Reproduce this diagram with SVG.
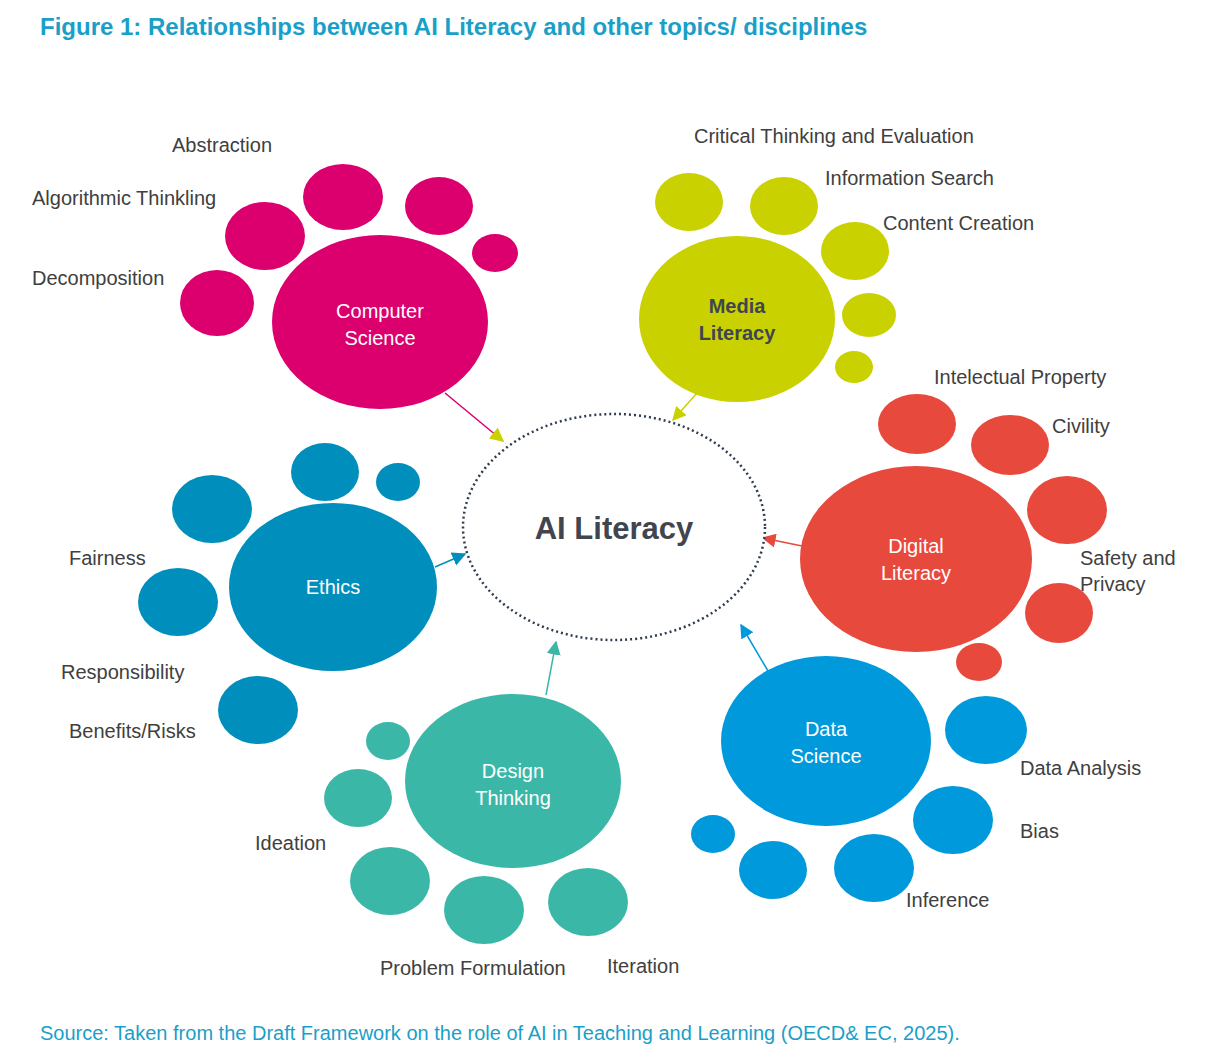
<svg xmlns="http://www.w3.org/2000/svg" width="1231" height="1064" viewBox="0 0 1231 1064">
<style>
text{font-family:"Liberation Sans",Arial,sans-serif}
.lb{font-size:20px;fill:#404040}
.w{font-size:20px;fill:#fff;text-anchor:middle}
.cs{fill:#DB006E}.ml{fill:#C9D100}.dl{fill:#E8493D}.ds{fill:#0099DB}.dt{fill:#3BB7A8}.et{fill:#008FBC}
.ar{stroke-width:1.5;fill:none}
</style>
<defs>
<marker id="m1" viewBox="0 0 10 10" refX="9" refY="5" markerWidth="8" markerHeight="8" orient="auto" markerUnits="userSpaceOnUse"><path d="M0,0L10,5L0,10z" fill="#DB006E"/></marker>
<marker id="m2" viewBox="0 0 10 10" refX="9" refY="5" markerWidth="14" markerHeight="14" orient="auto" markerUnits="userSpaceOnUse"><path d="M0,0L10,5L0,10z" fill="#C9D100"/></marker>
<marker id="m3" viewBox="0 0 10 10" refX="9" refY="5" markerWidth="14" markerHeight="14" orient="auto" markerUnits="userSpaceOnUse"><path d="M0,0L10,5L0,10z" fill="#E8493D"/></marker>
<marker id="m4" viewBox="0 0 10 10" refX="9" refY="5" markerWidth="14" markerHeight="14" orient="auto" markerUnits="userSpaceOnUse"><path d="M0,0L10,5L0,10z" fill="#0099DB"/></marker>
<marker id="m5" viewBox="0 0 10 10" refX="9" refY="5" markerWidth="14" markerHeight="14" orient="auto" markerUnits="userSpaceOnUse"><path d="M0,0L10,5L0,10z" fill="#3BB7A8"/></marker>
<marker id="m6" viewBox="0 0 10 10" refX="9" refY="5" markerWidth="14" markerHeight="14" orient="auto" markerUnits="userSpaceOnUse"><path d="M0,0L10,5L0,10z" fill="#008FBC"/></marker>
</defs>
<rect width="1231" height="1064" fill="#fff"/>
<text x="40" y="35" font-size="24" font-weight="bold" fill="#1A9FC9">Figure 1: Relationships between AI Literacy and other topics/ disciplines</text>

<g id="connectors">
<line class="ar" x1="445" y1="393" x2="503" y2="441" stroke="#DB006E" marker-end="url(#m2)"/>
<line class="ar" x1="697" y1="393" x2="673" y2="420" stroke="#C9D100" marker-end="url(#m2)"/>
<line class="ar" x1="802" y1="546" x2="763" y2="538" stroke="#E8493D" marker-end="url(#m3)"/>
<line class="ar" x1="768" y1="671" x2="741" y2="625" stroke="#0099DB" marker-end="url(#m4)"/>
<line class="ar" x1="546" y1="695" x2="556" y2="642" stroke="#3BB7A8" marker-end="url(#m5)"/>
<line class="ar" x1="435" y1="567" x2="465" y2="554" stroke="#008FBC" marker-end="url(#m6)"/>
</g>

<g id="ai-literacy">
<ellipse cx="614" cy="527" rx="151" ry="113" fill="#fff" stroke="#2E3D4F" stroke-width="2.5" stroke-dasharray="2 3"/>
<text x="614" y="539" font-size="31" font-weight="bold" fill="#3F4650" text-anchor="middle">AI Literacy</text>
</g>

<g id="computer-science" class="cs">
<ellipse cx="343" cy="197" rx="40" ry="33"/><ellipse cx="439" cy="206" rx="34" ry="29"/><ellipse cx="265" cy="236" rx="40" ry="34"/><ellipse cx="495" cy="253" rx="23" ry="19"/><ellipse cx="217" cy="303" rx="37" ry="33"/>
<ellipse cx="380" cy="322" rx="108" ry="87"/>
<text class="w" x="380" y="318">Computer</text><text class="w" x="380" y="345">Science</text>
</g>
<g id="media-literacy" class="ml">
<ellipse cx="689" cy="202" rx="34" ry="29"/><ellipse cx="784" cy="206" rx="34" ry="29"/><ellipse cx="855" cy="251" rx="34" ry="29"/><ellipse cx="869" cy="315" rx="27" ry="22"/><ellipse cx="854" cy="367" rx="19" ry="16"/>
<ellipse cx="737" cy="319" rx="98" ry="83"/>
<text x="737" y="313" font-size="20" font-weight="bold" fill="#3F4650" text-anchor="middle">Media</text><text x="737" y="340" font-size="20" font-weight="bold" fill="#3F4650" text-anchor="middle">Literacy</text>
</g>
<g id="digital-literacy" class="dl">
<ellipse cx="917" cy="424" rx="39" ry="30"/><ellipse cx="1010" cy="445" rx="39" ry="30"/><ellipse cx="1067" cy="510" rx="40" ry="34"/><ellipse cx="1059" cy="613" rx="34" ry="30"/><ellipse cx="979" cy="662" rx="23" ry="19"/>
<ellipse cx="916" cy="559" rx="116" ry="93"/>
<text class="w" x="916" y="553">Digital</text><text class="w" x="916" y="580">Literacy</text>
</g>
<g id="data-science" class="ds">
<ellipse cx="986" cy="730" rx="41" ry="34"/><ellipse cx="953" cy="820" rx="40" ry="34"/><ellipse cx="874" cy="868" rx="40" ry="34"/><ellipse cx="773" cy="870" rx="34" ry="29"/><ellipse cx="713" cy="834" rx="22" ry="19"/>
<ellipse cx="826" cy="741" rx="105" ry="85"/>
<text class="w" x="826" y="736">Data</text><text class="w" x="826" y="763">Science</text>
</g>
<g id="design-thinking" class="dt">
<ellipse cx="388" cy="741" rx="22" ry="19"/><ellipse cx="358" cy="798" rx="34" ry="29"/><ellipse cx="390" cy="881" rx="40" ry="34"/><ellipse cx="484" cy="910" rx="40" ry="34"/><ellipse cx="588" cy="902" rx="40" ry="34"/>
<ellipse cx="513" cy="781" rx="108" ry="87"/>
<text class="w" x="513" y="778">Design</text><text class="w" x="513" y="805">Thinking</text>
</g>
<g id="ethics" class="et">
<ellipse cx="325" cy="472" rx="34" ry="29"/><ellipse cx="398" cy="482" rx="22" ry="19"/><ellipse cx="212" cy="509" rx="40" ry="34"/><ellipse cx="178" cy="602" rx="40" ry="34"/><ellipse cx="258" cy="710" rx="40" ry="34"/>
<ellipse cx="333" cy="587" rx="104" ry="84"/>
<text class="w" x="333" y="594">Ethics</text>
</g>

<g id="labels">
<text class="lb" x="172" y="152">Abstraction</text>
<text class="lb" x="32" y="205">Algorithmic Thinkling</text>
<text class="lb" x="32" y="285">Decomposition</text>
<text class="lb" x="694" y="143">Critical Thinking and Evaluation</text>
<text class="lb" x="825" y="185">Information Search</text>
<text class="lb" x="883" y="230">Content Creation</text>
<text class="lb" x="934" y="384">Intelectual Property</text>
<text class="lb" x="1052" y="433">Civility</text>
<text class="lb" x="1080" y="565">Safety and</text>
<text class="lb" x="1080" y="591">Privacy</text>
<text class="lb" x="1020" y="775">Data Analysis</text>
<text class="lb" x="1020" y="838">Bias</text>
<text class="lb" x="906" y="907">Inference</text>
<text class="lb" x="69" y="565">Fairness</text>
<text class="lb" x="61" y="679">Responsibility</text>
<text class="lb" x="69" y="738">Benefits/Risks</text>
<text class="lb" x="255" y="850">Ideation</text>
<text class="lb" x="380" y="975">Problem Formulation</text>
<text class="lb" x="607" y="973">Iteration</text>
</g>
<text x="40" y="1040" font-size="20" fill="#1A9FC9">Source: Taken from the Draft Framework on the role of AI in Teaching and Learning (OECD&amp; EC, 2025).</text>
</svg>
